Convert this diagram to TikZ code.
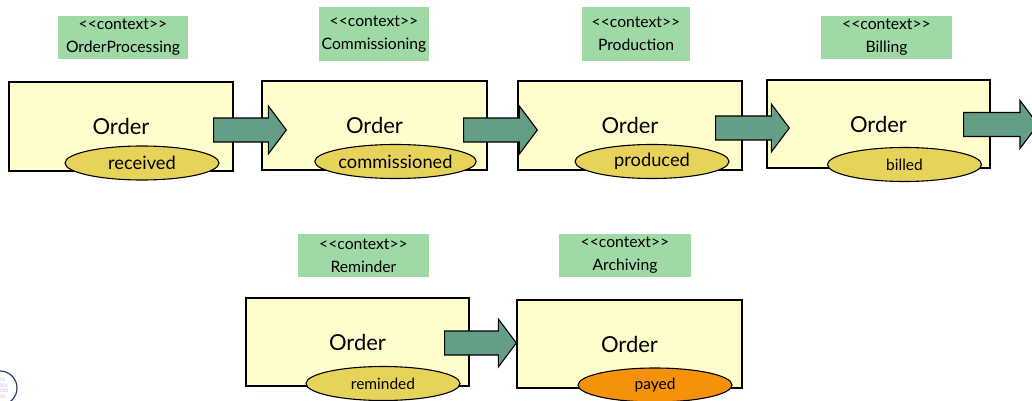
\documentclass[tikz,border=0pt]{standalone}
\usepackage{fontspec}
\setmainfont{Lato}
\usetikzlibrary{calc,shapes.geometric}
\definecolor{boxfill}{HTML}{FFFDCC}
\definecolor{ctxfill}{HTML}{9FD9A6}
\definecolor{arrowfill}{HTML}{659E87}
\definecolor{statefill}{HTML}{E8D35A}
\definecolor{finalfill}{HTML}{F5920C}
\definecolor{logoblue}{HTML}{23406E}
\definecolor{logodigit}{HTML}{B8BEE0}
\newcommand{\ctxword}{<{}<context>{}>}
\tikzset{
  orderbox/.style={draw=black, line width=1.3pt, fill=boxfill, minimum width=223pt, minimum height=88pt, inner sep=0pt, font=\fontsize{22}{26}\selectfont},
  ctxbox/.style={fill=ctxfill, inner sep=0pt, align=center, font=\fontsize{15.7}{23}\selectfont},
  statebox/.style={draw=black, line width=1.1pt, fill=statefill, ellipse, minimum width=154pt, minimum height=34pt, inner sep=0pt, font=\fontsize{18.3}{20}\selectfont},
  smallstate/.style={font=\fontsize{15.5}{18}\selectfont},
  blockarrow/.style={draw=black, line width=1.1pt, fill=arrowfill, line join=miter},
}
\newcommand{\myblockarrow}[2]{%
  \path let \p1=(#1), \p2=(#2) in
    [blockarrow] (\x1,\y1+12pt) -- (\x2-18pt,\y1+12pt) -- (\x2-18pt,\y1+24pt) -- (\x2,\y1)
    -- (\x2-18pt,\y1-24pt) -- (\x2-18pt,\y1-12pt) -- (\x1,\y1-12pt) -- cycle;}
\begin{document}
\begin{tikzpicture}[x=1pt,y=-1pt]
\useasboundingbox (0,0) rectangle (1032,401);
% logo
\begin{scope}
\clip (0,0) rectangle (1032,401);
\node[text=logodigit, font=\fontsize{5}{5.5}\selectfont, align=left, inner sep=0pt] (logotext) at (4,388) {10\\001\\010\\10};
\draw[logoblue, line width=1.2pt] (0,388) circle (17);
\end{scope}
% context labels
\node[ctxbox, minimum width=130pt, minimum height=43pt] (c1) at (123,37.5) {\ctxword\\OrderProcessing};
\node[ctxbox, minimum width=110pt, minimum height=54pt] (c2) at (374,34) {\ctxword\\Commissioning};
\node[ctxbox, minimum width=108pt, minimum height=54pt] (c3) at (636,34) {\ctxword\\Production};
\node[ctxbox, minimum width=131pt, minimum height=43pt] (c4) at (886.5,37.5) {\ctxword\\Billing};
\node[ctxbox, minimum width=131pt, minimum height=43pt] (c5) at (363.5,255.5) {\ctxword\\Reminder};
\node[ctxbox, minimum width=132pt, minimum height=43pt] (c6) at (625,255.5) {\ctxword\\Archiving};
% boxes
\node[orderbox, minimum width=224pt, minimum height=89pt] (b1) at (121,126.5) {Order};
\node[orderbox, minimum width=225pt, minimum height=89pt] (b2) at (374.5,125.5) {Order};
\node[orderbox, minimum width=224pt, minimum height=89pt] (b3) at (630,125.5) {Order};
\node[orderbox] (b4) at (878.5,124) {Order};
\node[orderbox] (b5) at (357.5,342) {Order};
\node[orderbox, minimum width=225pt] (b6) at (629.5,344) {Order};
% arrows
\coordinate (a1s) at ($(b1.east)+(-20,3.5)$);
\coordinate (a1t) at ($(b2.west)+(25,4.5)$);
\myblockarrow{a1s}{a1t}
\coordinate (a2s) at ($(b2.east)+(-24,4.5)$);
\coordinate (a2t) at ($(b3.west)+(20,4.5)$);
\myblockarrow{a2s}{a2t}
\coordinate (a3s) at ($(b3.east)+(-27,2.5)$);
\coordinate (a3t) at ($(b4.west)+(23,4.5)$);
\myblockarrow{a3s}{a3t}
\coordinate (a4s) at ($(b4.east)+(-27,0.5)$);
\coordinate (a4t) at (1038,124.5);
\myblockarrow{a4s}{a4t}
\coordinate (a5s) at ($(b5.east)+(-25,1)$);
\coordinate (a5t) at ($(b6.west)+(0,-1)$);
\myblockarrow{a5s}{a5t}
% states
\node[statebox] (s1) at (142,163) {received};
\node[statebox] (s2) at (395.5,161.5) {commissioned};
\node[statebox] (s3) at (652,161.5) {produced};
\node[statebox, smallstate] (s4) at (904.5,164.5) {billed};
\node[statebox, smallstate] (s5) at (383,383.5) {reminded};
\node[statebox, smallstate, fill=finalfill] (s6) at (655,385) {payed};
\end{tikzpicture}
\end{document}
